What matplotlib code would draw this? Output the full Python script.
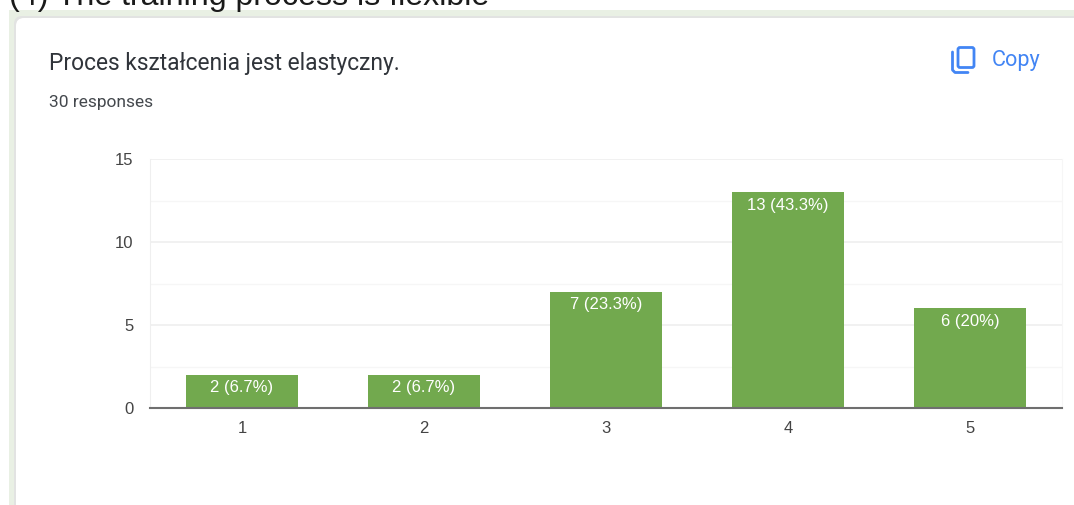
"""Bar chart of survey answers on a form-summary card."""

import matplotlib

matplotlib.use("Agg")

import matplotlib.pyplot as plt
from matplotlib.patches import FancyBboxPatch, Rectangle

WIDTH, HEIGHT = 1074, 505

categories = ["1", "2", "3", "4", "5"]
counts = [2, 2, 7, 13, 6]
value_labels = ["2 (6.7%)", "2 (6.7%)", "7 (23.3%)", "13 (43.3%)", "6 (20%)"]
y_ticks = [0, 5, 10, 15]
y_minor_ticks = [2.5, 7.5, 12.5]

page_title = "(4) The training process is flexible"
card_title = "Proces kształcenia jest elastyczny."
card_subtitle = "30 responses"


def axes_rect(left, top, right, bottom):
    return [left / WIDTH, 1 - bottom / HEIGHT, (right - left) / WIDTH, (bottom - top) / HEIGHT]


def draw_card(page):
    # Pale green page band behind the card, with a thin shadow along its edge
    page.add_patch(Rectangle((9, 10), WIDTH, HEIGHT, fc="#e9f0e4", ec="none"))
    page.add_patch(FancyBboxPatch((20, 22), WIDTH, HEIGHT, boxstyle="round,pad=6,rounding_size=8",
                                  fc="#e2e3e2", ec="none"))
    page.add_patch(FancyBboxPatch((22, 24), WIDTH, HEIGHT, boxstyle="round,pad=6,rounding_size=8",
                                  fc="white", ec="none"))

    page.text(9, 5, page_title, family="Liberation Sans", fontsize=23.1, color="#1a1a1a", va="baseline")
    page.text(49, 70, card_title, family="Roboto", fontsize=16.4, color="#30343a", va="baseline")
    page.text(49, 106.5, card_subtitle, family="Roboto", fontsize=12.5, color="#44484d", va="baseline")

    # Copy button
    blue = "#4285f4"
    page.add_patch(FancyBboxPatch((958, 47.5), 16, 20, boxstyle="round,pad=0,rounding_size=2",
                                  fc="none", ec=blue, lw=2))
    page.plot([952.5, 952.5, 955, 968], [52, 70, 72.5, 72.5], color=blue, lw=2, solid_capstyle="round")
    page.text(992, 66, "Copy", family="Roboto", fontsize=15.6, color=blue, va="baseline")


def draw_chart(axis):
    axis.bar(categories, counts, width=0.615, color="#72a94e", zorder=3)
    axis.set_xlim(-0.505, 4.505)
    axis.set_ylim(0, 15)
    axis.set_yticks(y_ticks)
    axis.set_yticks(y_minor_ticks, minor=True)
    axis.grid(True, axis="y", which="major", color="#efefef", lw=1.2, zorder=0)
    axis.grid(True, axis="y", which="minor", color="#f6f6f6", lw=1, zorder=0)
    axis.tick_params(axis="both", which="both", length=0)
    axis.tick_params(axis="x", pad=9.5, labelsize=12, labelcolor="#444444")
    axis.tick_params(axis="y", pad=12, labelsize=12, labelcolor="#444444")
    for label in axis.get_xticklabels() + axis.get_yticklabels():
        label.set_family("Liberation Sans")

    axis.spines["top"].set_visible(False)
    axis.spines["left"].set_color("#efefef")
    axis.spines["right"].set_color("#f6f6f6")
    axis.spines["bottom"].set_color("#6f6f6f")
    axis.spines["bottom"].set_linewidth(1.5)
    axis.spines["bottom"].set_zorder(4)

    for position, (count, label) in enumerate(zip(counts, value_labels)):
        axis.annotate(label, (position, count), xytext=(0, -4), textcoords="offset points",
                      ha="center", va="top", family="Liberation Sans", fontsize=12,
                      color="white", zorder=5)


def main():
    fig = plt.figure(figsize=(WIDTH / 100, HEIGHT / 100), dpi=100, facecolor="white")

    page = fig.add_axes([0, 0, 1, 1])
    page.set_xlim(0, WIDTH)
    page.set_ylim(HEIGHT, 0)
    page.axis("off")
    draw_card(page)

    axis = fig.add_axes(axes_rect(150, 159, 1062, 408))
    axis.patch.set_alpha(0)
    draw_chart(axis)

    fig.savefig("out.png", dpi=100)
    plt.close(fig)


if __name__ == "__main__":
    main()
